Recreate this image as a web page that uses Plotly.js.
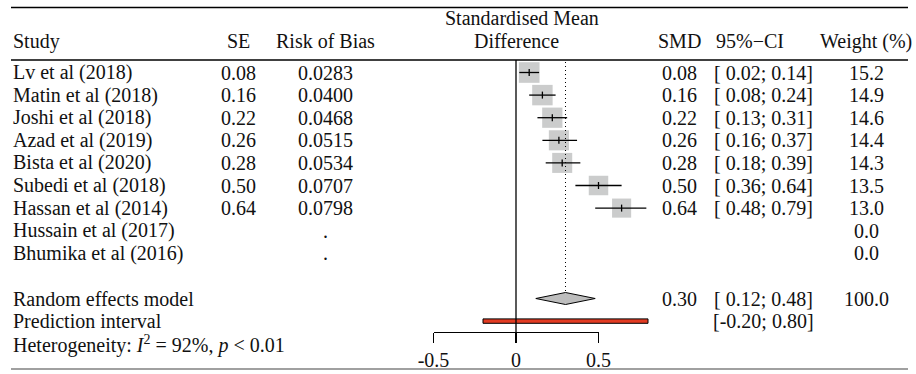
<!DOCTYPE html>
<html><head><meta charset="utf-8">
<script src="https://cdn.plot.ly/plotly-3.0.1.min.js"></script>
<style>html,body{margin:0;padding:0;background:#fff}#chart{width:916px;height:374px}</style>
</head><body><div id="chart"></div>
<script>
// ---- data ----
const studies = ["Lv et al (2018)","Matin et al (2018)","Joshi et al (2018)","Azad et al (2019)","Bista et al (2020)","Subedi et al (2018)","Hassan et al (2014)","Hussain et al (2017)","Bhumika et al (2016)"];
const seText = ["0.08","0.16","0.22","0.26","0.28","0.50","0.64","",""];
const riskOfBias = ["0.0283","0.0400","0.0468","0.0515","0.0534","0.0707","0.0798",".","."];
const smd = [0.08,0.16,0.22,0.26,0.28,0.50,0.64,null,null];
const ciLower = [0.02,0.08,0.13,0.16,0.18,0.36,0.48,null,null];
const ciUpper = [0.14,0.24,0.31,0.37,0.39,0.64,0.79,null,null];
const weights = [15.2,14.9,14.6,14.4,14.3,13.5,13.0,0.0,0.0];
const summaryLabels = ["Random effects model","Prediction interval"];
const reEst = 0.30, reLower = 0.12, reUpper = 0.48, reWeight = 100.0;
const piLower = -0.20, piUpper = 0.80;
const hetI2 = 92, hetP = "&lt; 0.01";
const axisTickVals = [-0.5, 0, 0.5];
const axisTickText = ["-0.5", "0", "0.5"];
const headers = {study:"Study", se:"SE", rob:"Risk of Bias", plot1:"Standardised Mean", plot2:"Difference", smd:"SMD", ci:"95%\u2212CI", w:"Weight (%)"};

// ---- layout geometry (pixels) ----
const W = 916, H = 374;
const X0 = 516, PXU = 165;      // pixel of x=0, pixels per unit
const R0 = 72.5, RS = 22.6;     // pixel of first row, row step
const rowOf = py => (py - R0) / RS;
const px = p => p / W;
const FONT = {family: "Liberation Serif, Times New Roman, serif", size: 20, color: "#111"};
const COL = {study: 11, se: 238, rob: 325, plot1: 522, plot2: 516, smd: 679, ciHead: 750, ci: 763, w: 866};

const nStudies = studies.length;
const studyRows = studies.map((_, i) => i);
const reRow = nStudies + 1;
const piRow = nStudies + 2;

const fmt2 = v => v.toFixed(2);
const fmtCI = (l, u) => "[" + (l < 0 ? fmt2(l) : "\u00A0" + fmt2(l)) + "; " + fmt2(u) + "]";

// ---- traces ----
const idx = studyRows.filter(i => smd[i] !== null);
const squares = {
  type: "scatter", mode: "markers", x: idx.map(i => smd[i]), y: idx,
  marker: {symbol: "square", color: "#b5b7b7", size: idx.map(i => 5.3 * Math.sqrt(weights[i])), line: {width: 0}},
  hoverinfo: "skip", showlegend: false
};
const ciX = [], ciY = [];
idx.forEach(i => { ciX.push(ciLower[i], ciUpper[i], null); ciY.push(i, i, null); });
const ciLines = {type: "scatter", mode: "lines", x: ciX, y: ciY, line: {color: "#000", width: 1.3}, hoverinfo: "skip", showlegend: false};
const estTicks = {
  type: "scatter", mode: "markers", x: idx.map(i => smd[i]), y: idx,
  marker: {symbol: "line-ns", size: 5, line: {color: "#000", width: 1.3}},
  hoverinfo: "skip", showlegend: false
};
const dh = 6 / RS;
const diamond = {
  type: "scatter", mode: "lines", fill: "toself", fillcolor: "#bdbdbd",
  x: [reLower, reEst, reUpper, reEst, reLower], y: [reRow, reRow - dh, reRow, reRow + dh, reRow],
  line: {color: "#000", width: 1}, hoverinfo: "skip", showlegend: false
};
const ph = 2.2 / RS;
const predRect = {
  type: "scatter", mode: "lines", fill: "toself", fillcolor: "#e23b22",
  x: [piLower, piUpper, piUpper, piLower, piLower], y: [piRow - ph, piRow - ph, piRow + ph, piRow + ph, piRow - ph],
  line: {color: "#000", width: 1}, hoverinfo: "skip", showlegend: false
};
const axisHolder = {type: "scatter", mode: "markers", x: axisTickVals, y: axisTickVals.map(() => null), xaxis: "x2", yaxis: "y", hoverinfo: "skip", showlegend: false};

// ---- annotations ----
const ann = [];
const A = (text, xp, row, anchor) => ann.push({text, x: px(xp), xref: "paper", y: row, yref: "y", xanchor: anchor, yanchor: "middle", showarrow: false, font: FONT});
A(headers.plot1, COL.plot1, rowOf(18), "center");
A(headers.plot2, COL.plot2, rowOf(41), "center");
A(headers.study, COL.study, rowOf(41), "left");
A(headers.se, COL.se, rowOf(41), "center");
A(headers.rob, COL.rob, rowOf(41), "center");
A(headers.smd, COL.smd, rowOf(41), "center");
A(headers.ci, COL.ciHead, rowOf(41), "center");
A(headers.w, COL.w, rowOf(41), "center");
studyRows.forEach(i => {
  A(studies[i], COL.study, i, "left");
  if (seText[i]) A(seText[i], COL.se, i, "center");
  A(riskOfBias[i], COL.rob, i, "center");
  if (smd[i] !== null) {
    A(fmt2(smd[i]), COL.smd, i, "center");
    A(fmtCI(ciLower[i], ciUpper[i]), COL.ci, i, "center");
  }
  A(weights[i].toFixed(1), COL.w, i, "center");
});
A(summaryLabels[0], COL.study, reRow, "left");
A(fmt2(reEst), COL.smd, reRow, "center");
A(fmtCI(reLower, reUpper), COL.ci, reRow, "center");
A(reWeight.toFixed(1), COL.w, reRow, "center");
A(summaryLabels[1], COL.study, piRow, "left");
A(fmtCI(piLower, piUpper), COL.ci, piRow, "center");
A("Heterogeneity: <i>I</i><sup>2</sup> = " + hetI2 + "%, <i>p</i> " + hetP, COL.study, rowOf(344), "left");

// ---- shapes ----
const hline = (py, color) => ({type: "line", xref: "paper", yref: "paper", x0: px(11), x1: px(908), y0: 1 - py / H, y1: 1 - py / H, line: {color, width: 1.3}});
const shapes = [
  hline(7.5, "#000"), hline(60, "#000"), hline(369, "#808080"),
  {type: "line", xref: "x", yref: "y", x0: 0, x1: 0, y0: rowOf(60), y1: rowOf(332), line: {color: "#000", width: 1.3}},
  {type: "line", xref: "x", yref: "y", x0: reEst, x1: reEst, y0: rowOf(62), y1: reRow - dh, line: {color: "#000", width: 1, dash: "1px,3px"}}
];

const layout = {
  width: W, height: H, margin: {l: 0, r: 0, t: 0, b: 0, pad: 0},
  paper_bgcolor: "#fff", plot_bgcolor: "rgba(0,0,0,0)", showlegend: false, hovermode: false,
  font: FONT,
  xaxis: {visible: false, range: [(0 - X0) / PXU, (W - X0) / PXU], domain: [0, 1], fixedrange: true},
  yaxis: {visible: false, range: [rowOf(H), rowOf(0)], domain: [0, 1], fixedrange: true},
  xaxis2: {
    domain: [px(X0 - 0.5 * PXU), px(X0 + 0.5 * PXU)], range: [-0.5, 0.5], anchor: "free", position: 1 - 332 / H,
    showline: true, linecolor: "#000", linewidth: 1.3, ticks: "outside", ticklen: 10, tickwidth: 1.3, tickcolor: "#000",
    tickmode: "array", tickvals: axisTickVals, ticktext: axisTickText, tickfont: FONT, showgrid: false, zeroline: false, fixedrange: true
  },
  shapes, annotations: ann
};

Plotly.newPlot("chart", [squares, ciLines, estTicks, diamond, predRect, axisHolder], layout, {staticPlot: true, displayModeBar: false});
</script>
</body></html>
